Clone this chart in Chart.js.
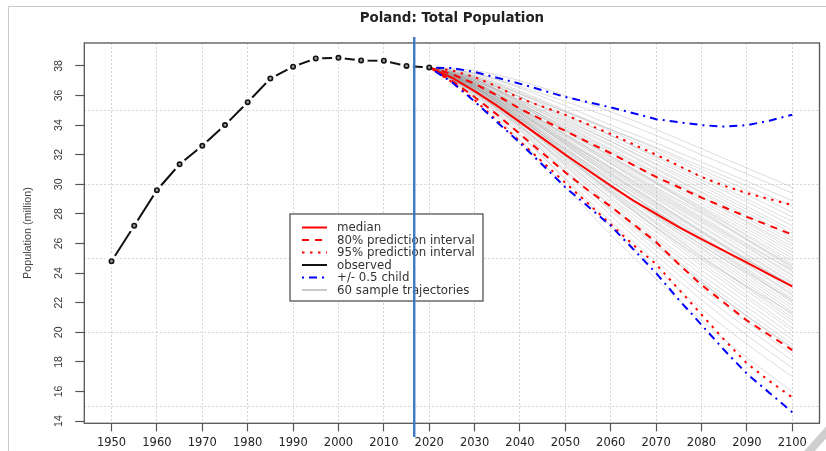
<!DOCTYPE html>
<html>
<head>
<meta charset="utf-8">
<title>Poland: Total Population</title>
<script src="https://cdn.jsdelivr.net/npm/chart.js@4/dist/chart.umd.min.js"></script>
<style>
  body { margin: 0; background: #fff; }
  #wrap { position: relative; width: 826px; height: 451px; }
</style>
</head>
<body>
<div id="wrap"><canvas id="myChart"></canvas></div>
<script>
// observed population (million)
const obsYears = [1950, 1955, 1960, 1965, 1970, 1975, 1980, 1985, 1990, 1995, 2000, 2005, 2010, 2015, 2020];
const obsPop = [24.8, 27.2, 29.6, 31.35, 32.6, 34.0, 35.55, 37.15, 37.95, 38.5, 38.55, 38.37, 38.35, 38.0, 37.9];

// projections
const projYears = [2020, 2025, 2030, 2035, 2040, 2045, 2050, 2055, 2060, 2065, 2070, 2075, 2080, 2085, 2090, 2095, 2100];
const median  = [37.9, 37.2, 36.3, 35.3, 34.2, 33.1, 32.0, 30.95, 29.9, 28.9, 28.0, 27.1, 26.3, 25.5, 24.7, 23.9, 23.1];
const upper80 = [37.9, 37.45, 36.8, 36.0, 35.1, 34.35, 33.6, 32.85, 32.1, 31.3, 30.5, 29.8, 29.1, 28.45, 27.8, 27.2, 26.6];
const lower80 = [37.9, 37.0, 35.9, 34.7, 33.4, 32.1, 30.8, 29.6, 28.5, 27.3, 26.1, 24.6, 23.2, 22.0, 20.8, 19.8, 18.8];
const upper95 = [37.9, 37.7, 37.25, 36.6, 35.8, 35.25, 34.7, 34.05, 33.4, 32.7, 32.0, 31.25, 30.5, 29.9, 29.4, 29.0, 28.6];
const lower95 = [37.9, 36.9, 35.7, 34.3, 32.9, 31.5, 30.1, 28.7, 27.3, 25.9, 24.6, 22.9, 21.2, 19.5, 17.9, 16.7, 15.6];
const upperChild = [37.9, 37.85, 37.6, 37.2, 36.8, 36.35, 35.9, 35.55, 35.2, 34.8, 34.4, 34.2, 34.0, 33.9, 34.0, 34.3, 34.7];
const lowerChild = [37.9, 36.9, 35.6, 34.2, 32.8, 31.3, 29.8, 28.5, 27.2, 25.6, 24.0, 22.2, 20.5, 18.8, 17.2, 15.9, 14.6];

// 60 sample trajectories, one value per decade
const trajYears = [2020, 2030, 2040, 2050, 2060, 2070, 2080, 2090, 2100];
const trajectories = [
  [37.9, 35.9, 33.0, 29.8, 26.6, 23.6, 20.8, 18.3, 16.0],
  [37.9, 36.1, 33.4, 30.3, 27.2, 24.3, 21.6, 19.2, 17.0],
  [37.9, 36.0, 33.3, 30.4, 27.5, 24.8, 22.2, 19.8, 17.6],
  [37.9, 36.2, 33.7, 30.8, 27.9, 25.2, 22.6, 20.3, 18.1],
  [37.9, 36.3, 33.8, 31.0, 28.2, 25.5, 23.0, 20.7, 18.5],
  [37.9, 36.1, 33.6, 30.9, 28.3, 25.8, 23.4, 21.1, 18.9],
  [37.9, 36.4, 34.0, 31.3, 28.6, 26.0, 23.6, 21.4, 19.2],
  [37.9, 36.2, 33.9, 31.4, 28.8, 26.3, 23.9, 21.7, 19.5],
  [37.9, 36.5, 34.2, 31.6, 29.0, 26.5, 24.2, 22.0, 19.8],
  [37.9, 36.3, 34.0, 31.5, 29.1, 26.8, 24.5, 22.3, 20.1],
  [37.9, 36.4, 34.3, 31.9, 29.4, 27.0, 24.7, 22.5, 20.3],
  [37.9, 36.6, 34.4, 32.0, 29.5, 27.1, 24.9, 22.8, 20.6],
  [37.9, 36.3, 34.1, 31.8, 29.5, 27.3, 25.1, 23.0, 20.8],
  [37.9, 36.5, 34.5, 32.1, 29.7, 27.4, 25.2, 23.1, 21.0],
  [37.9, 36.6, 34.3, 31.9, 29.6, 27.5, 25.4, 23.3, 21.2],
  [37.9, 36.4, 34.2, 32.0, 29.8, 27.7, 25.6, 23.5, 21.4],
  [37.9, 36.7, 34.6, 32.3, 30.0, 27.8, 25.7, 23.7, 21.6],
  [37.9, 36.5, 34.4, 32.2, 30.0, 27.9, 25.9, 23.9, 21.8],
  [37.9, 36.6, 34.6, 32.4, 30.2, 28.1, 26.1, 24.1, 22.0],
  [37.9, 36.4, 34.4, 32.3, 30.2, 28.2, 26.2, 24.2, 22.1],
  [37.9, 36.7, 34.7, 32.5, 30.3, 28.2, 26.3, 24.3, 22.3],
  [37.9, 36.5, 34.5, 32.4, 30.4, 28.4, 26.4, 24.5, 22.5],
  [37.9, 36.6, 34.8, 32.7, 30.5, 28.5, 26.5, 24.6, 22.6],
  [37.9, 36.8, 34.9, 32.8, 30.7, 28.6, 26.7, 24.8, 22.8],
  [37.9, 36.5, 34.6, 32.6, 30.6, 28.7, 26.8, 24.9, 23.0],
  [37.9, 36.7, 34.8, 32.7, 30.7, 28.8, 26.9, 25.0, 23.1],
  [37.9, 36.6, 34.7, 32.8, 30.9, 29.0, 27.1, 25.2, 23.3],
  [37.9, 36.8, 35.0, 33.0, 31.0, 29.1, 27.2, 25.3, 23.4],
  [37.9, 36.7, 34.9, 33.0, 31.1, 29.2, 27.4, 25.5, 23.6],
  [37.9, 36.6, 34.8, 32.9, 31.1, 29.3, 27.5, 25.7, 23.8],
  [37.9, 36.9, 35.1, 33.1, 31.2, 29.4, 27.6, 25.8, 23.9],
  [37.9, 36.7, 35.0, 33.2, 31.4, 29.6, 27.8, 26.0, 24.1],
  [37.9, 36.8, 35.2, 33.4, 31.5, 29.7, 28.0, 26.2, 24.3],
  [37.9, 36.9, 35.1, 33.3, 31.6, 29.8, 28.1, 26.3, 24.4],
  [37.9, 36.7, 35.1, 33.4, 31.7, 30.0, 28.3, 26.5, 24.6],
  [37.9, 36.9, 35.3, 33.6, 31.8, 30.1, 28.4, 26.6, 24.8],
  [37.9, 37.0, 35.4, 33.6, 31.9, 30.2, 28.5, 26.8, 25.0],
  [37.9, 36.8, 35.3, 33.7, 32.1, 30.4, 28.7, 27.0, 25.2],
  [37.9, 37.0, 35.5, 33.8, 32.2, 30.5, 28.9, 27.2, 25.4],
  [37.9, 36.9, 35.4, 33.9, 32.3, 30.7, 29.1, 27.4, 25.6],
  [37.9, 37.1, 35.6, 34.0, 32.4, 30.8, 29.2, 27.5, 25.8],
  [37.9, 37.0, 35.6, 34.1, 32.6, 31.0, 29.4, 27.7, 26.0],
  [37.9, 37.1, 35.7, 34.2, 32.7, 31.1, 29.5, 27.9, 26.2],
  [37.9, 37.2, 35.9, 34.4, 32.9, 31.3, 29.7, 28.1, 26.4],
  [37.9, 37.0, 35.7, 34.3, 32.9, 31.4, 29.9, 28.3, 26.7],
  [37.9, 37.2, 35.9, 34.5, 33.1, 31.6, 30.1, 28.5, 26.9],
  [37.9, 37.3, 36.1, 34.7, 33.3, 31.8, 30.3, 28.8, 27.2],
  [37.9, 37.1, 35.9, 34.6, 33.3, 31.9, 30.5, 29.0, 27.5],
  [37.9, 37.3, 36.2, 34.9, 33.6, 32.2, 30.8, 29.3, 27.8],
  [37.9, 37.4, 36.3, 35.0, 33.7, 32.4, 31.0, 29.6, 28.1],
  [37.9, 37.2, 36.1, 34.9, 33.7, 32.5, 31.2, 29.9, 28.5],
  [37.9, 37.5, 36.5, 35.3, 34.0, 32.8, 31.5, 30.2, 28.9],
  [37.9, 37.5, 36.6, 35.6, 34.5, 33.3, 32.0, 30.7, 29.4],
  [37.9, 37.7, 37.0, 36.0, 34.9, 33.7, 32.4, 31.1, 29.8],
  [37.9, 36.6, 34.5, 32.1, 29.9, 27.9, 25.9, 24.0, 22.2],
  [37.9, 36.8, 34.9, 32.9, 30.8, 28.8, 26.8, 24.9, 23.2],
  [37.9, 36.9, 35.2, 33.3, 31.4, 29.5, 27.7, 25.9, 24.2],
  [37.9, 36.4, 34.2, 31.7, 29.3, 27.1, 25.0, 23.1, 21.3],
  [37.9, 37.1, 35.5, 33.7, 31.9, 30.1, 28.2, 26.3, 24.5],
  [37.9, 36.2, 33.9, 31.2, 28.5, 25.9, 23.4, 21.1, 19.0]
];

// axes
const xTicks = [1950, 1960, 1970, 1980, 1990, 2000, 2010, 2020, 2030, 2040, 2050, 2060, 2070, 2080, 2090, 2100];
const yTicks = [14, 16, 18, 20, 22, 24, 26, 28, 30, 32, 34, 36, 38];
const yGrid = [15, 20, 25, 30, 35];
const nowYear = 2016.7;

const legendLabels = ['median', '80% prediction interval', '95% prediction interval', 'observed', '+/- 0.5 child', '60 sample trajectories'];

function pts(xs, ys) {
  return xs.map((x, i) => ({x: x, y: ys[i]}));
}

const RED = '#ff0000', BLUE = '#0000ff';
const DASHED = [7, 6], DOTTED = [2.5, 5.5], DOTDASH = [2, 5, 8, 5];

// lower order = drawn on top
const datasets = [];
datasets.push({data: pts(obsYears, obsPop), order: 0, showLine: false,
  pointRadius: 2.2, pointBorderWidth: 1.6, pointBorderColor: '#111', pointBackgroundColor: '#999'});
datasets.push({data: pts(obsYears, obsPop), order: 9, borderColor: '#111', borderWidth: 2,
  pointRadius: 6.5, pointBorderWidth: 0, pointBackgroundColor: '#fff', pointBorderColor: '#fff'});
datasets.push({data: pts(projYears, upperChild), order: 2, borderColor: BLUE, borderWidth: 2, borderDash: DOTDASH});
datasets.push({data: pts(projYears, lowerChild), order: 3, borderColor: BLUE, borderWidth: 2, borderDash: DOTDASH});
datasets.push({data: pts(projYears, median), order: 4, borderColor: RED, borderWidth: 2});
datasets.push({data: pts(projYears, upper80), order: 5, borderColor: RED, borderWidth: 2, borderDash: DASHED});
datasets.push({data: pts(projYears, lower80), order: 6, borderColor: RED, borderWidth: 2, borderDash: DASHED});
datasets.push({data: pts(projYears, upper95), order: 7, borderColor: RED, borderWidth: 2, borderDash: DOTTED});
datasets.push({data: pts(projYears, lower95), order: 8, borderColor: RED, borderWidth: 2, borderDash: DOTTED});
trajectories.forEach(function(t) {
  datasets.push({data: pts(trajYears, t), order: 10, borderColor: 'rgba(150,150,150,0.32)', borderWidth: 1, tension: 0.3});
});
datasets.forEach(function(d) {
  if (d.pointRadius === undefined) d.pointRadius = 0;
  if (d.tension === undefined) d.tension = 0;
});

const extras = {
  id: 'extras',
  afterDraw(chart) {
    const ctx = chart.ctx;
    const a = chart.chartArea;
    const xs = chart.scales.x, ys = chart.scales.y;
    ctx.save();

    // outer frame
    ctx.strokeStyle = '#c8c8c8';
    ctx.lineWidth = 1;
    ctx.beginPath();
    ctx.moveTo(8.5, 451); ctx.lineTo(8.5, 6.5); ctx.lineTo(826, 6.5);
    ctx.stroke();
    ctx.strokeStyle = '#cfcfcf';
    ctx.lineWidth = 8;
    ctx.beginPath();
    ctx.moveTo(806, 455); ctx.lineTo(830, 428);
    ctx.stroke();

    // plot box
    ctx.strokeStyle = '#555';
    ctx.lineWidth = 1.3;
    ctx.strokeRect(a.left, a.top, a.right - a.left, a.bottom - a.top);

    // y tick labels, rotated like R
    ctx.fillStyle = '#333';
    ctx.font = '10.5px "Liberation Sans", Arial, sans-serif';
    ctx.textAlign = 'center';
    ctx.textBaseline = 'middle';
    yTicks.forEach(function(v) {
      ctx.save();
      ctx.translate(59, ys.getPixelForValue(v));
      ctx.rotate(-Math.PI / 2);
      ctx.fillText(String(v), 0, 0);
      ctx.restore();
    });

    // legend
    const lx = 290, ly = 214, lw = 193, lh = 87;
    ctx.fillStyle = '#fff';
    ctx.fillRect(lx, ly, lw, lh);
    ctx.strokeStyle = '#444';
    ctx.lineWidth = 1.2;
    ctx.strokeRect(lx, ly, lw, lh);
    const styles = [
      {c: RED, d: []}, {c: RED, d: DASHED}, {c: RED, d: DOTTED},
      {c: '#111', d: []}, {c: BLUE, d: DOTDASH}, {c: '#c8c8c8', d: []}
    ];
    ctx.font = '11.8px "DejaVu Sans", sans-serif';
    ctx.textAlign = 'left';
    legendLabels.forEach(function(txt, i) {
      const y = 227.5 + i * 12.5;
      ctx.strokeStyle = styles[i].c;
      ctx.lineWidth = 2;
      ctx.setLineDash(styles[i].d);
      ctx.beginPath();
      ctx.moveTo(302, y); ctx.lineTo(327, y);
      ctx.stroke();
      ctx.setLineDash([]);
      ctx.fillStyle = '#333';
      ctx.fillText(txt, 337, y + 0.5);
    });

    // current year marker
    const px = xs.getPixelForValue(nowYear);
    ctx.strokeStyle = '#3d78c1';
    ctx.lineWidth = 2.4;
    ctx.beginPath();
    ctx.moveTo(px, 37); ctx.lineTo(px, 437);
    ctx.stroke();
    ctx.restore();
  }
};

const yMin = 13.85, yMax = 39.55;

new Chart(document.getElementById('myChart').getContext('2d'), {
  type: 'line',
  data: {datasets: datasets},
  options: {
    responsive: true,
    maintainAspectRatio: false,
    animation: false,
    layout: {padding: {top: 0, left: 0, right: 4.3, bottom: 0}},
    plugins: {
      legend: {display: false},
      tooltip: {enabled: false},
      title: {
        display: true,
        fullSize: false,
        text: 'Poland: Total Population',
        color: '#222',
        font: {family: 'DejaVu Sans', size: 13.4, weight: 'bold'},
        padding: {top: 10.5, bottom: 16.4}
      }
    },
    scales: {
      x: {
        type: 'linear',
        min: 1944,
        max: 2106,
        afterBuildTicks: function(s) { s.ticks = xTicks.map(v => ({value: v})); },
        afterFit: function(s) { s.height = 27.7; s.paddingLeft = 0; s.paddingRight = 0; },
        ticks: {
          autoSkip: false, maxRotation: 0, padding: 5, color: '#222',
          font: {family: 'DejaVu Sans', size: 11.5},
          callback: v => String(v)
        },
        grid: {color: '#d4d4d4', lineWidth: 1, tickColor: '#555', tickLength: 8, tickBorderDash: [], tickWidth: 1.2},
        border: {display: false, dash: [2, 2]}
      },
      y: {
        type: 'linear',
        position: 'left',
        min: yMin,
        max: yMax,
        afterBuildTicks: function(s) { s.ticks = yTicks.map(v => ({value: v})); },
        afterFit: function(s) { s.width = 84.3; s.paddingTop = 0; s.paddingBottom = 0; },
        ticks: {display: false},
        grid: {drawOnChartArea: false, tickColor: '#555', tickLength: 9, tickWidth: 1.2},
        border: {display: false},
        title: {
          display: true,
          text: 'Population (million)',
          color: '#444',
          font: {family: 'Liberation Sans', size: 10.8},
          padding: {top: 21.8, bottom: 0}
        }
      },
      yg: {
        type: 'linear',
        position: 'right',
        min: yMin,
        max: yMax,
        afterBuildTicks: function(s) { s.ticks = yGrid.map(v => ({value: v})); },
        afterFit: function(s) { s.width = 0; s.paddingTop = 0; s.paddingBottom = 0; },
        ticks: {display: false},
        grid: {color: '#d4d4d4', drawTicks: false},
        border: {display: false, dash: [2, 2]}
      }
    }
  },
  plugins: [extras]
});
</script>
</body>
</html>
